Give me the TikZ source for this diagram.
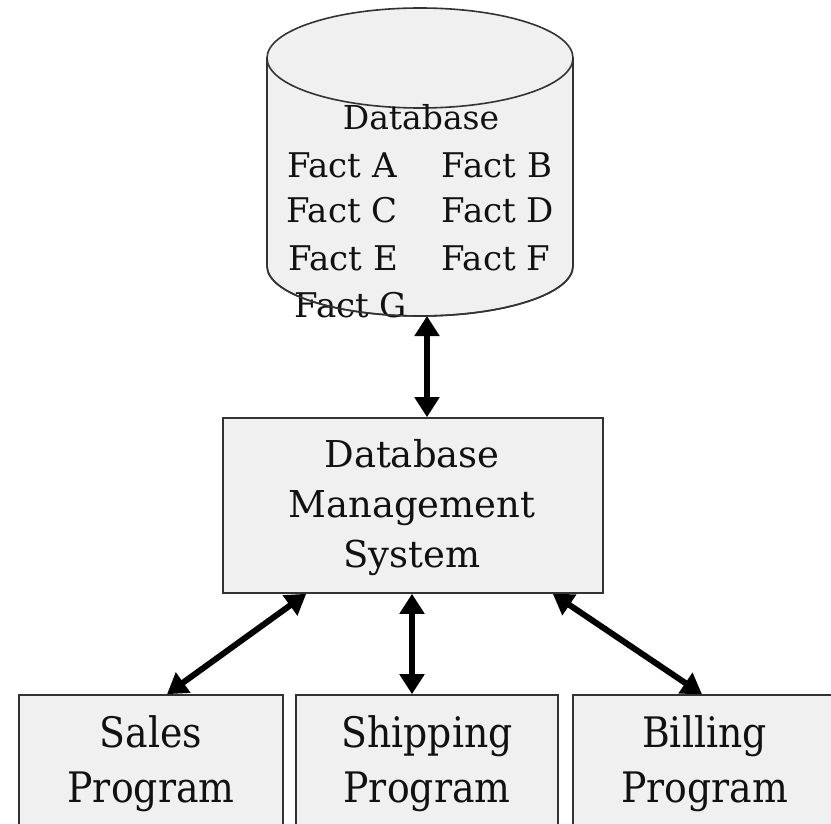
\documentclass[tikz,border=0pt]{standalone}
\usepackage{fontspec}
\setmainfont{DejaVu Serif}
\usetikzlibrary{arrows.meta}
\definecolor{boxfill}{HTML}{F0F0F0}
\definecolor{boxline}{HTML}{333333}
\definecolor{txt}{HTML}{111111}
\begin{document}
\begin{tikzpicture}[x=1pt,y=-1pt,
  box/.style={draw=boxline, line width=1.6pt, fill=boxfill, inner sep=0pt},
  cyl/.style={draw=boxline, line width=1.6pt, fill=boxfill},
  facttxt/.style={anchor=base, inner sep=0pt, text=txt, font=\fontsize{34}{40}\selectfont},
  dbtxt/.style={anchor=base, inner sep=0pt, text=txt, font=\fontsize{33}{40}\selectfont},
  midtxt/.style={anchor=base, inner sep=0pt, text=txt, font=\fontsize{37}{50}\selectfont},
  lowtxt/.style={anchor=base, inner sep=0pt, text=txt, font=\fontsize{42}{55}\selectfont},
  dbl/.style={line width=6pt, black, {Triangle[length=20pt,width=24pt]}-{Triangle[length=20pt,width=24pt]}}
]
\useasboundingbox (0,0) rectangle (831,824);
\clip (0,0) rectangle (831,824);
\fill[white] (0,0) rectangle (831,824);

% cylinder
\path[cyl] (267,58) -- (267,266) arc[start angle=180, end angle=360, x radius=153pt, y radius=50pt] -- (573,58) -- cycle;
\draw[cyl] (420,58) ellipse [x radius=153pt, y radius=50pt];
\coordinate (dbbot) at (427,316);

\node[dbtxt] (dbname) at (421,130) {Database};
\node[facttxt] (fa) at (342,178) {Fact A};
\node[facttxt] (fb) at (497,178) {Fact B};
\node[facttxt] (fc) at (342,223) {Fact C};
\node[facttxt] (fd) at (498,223) {Fact D};
\node[facttxt] (fe) at (343,270) {Fact E};
\node[facttxt] (ff) at (496,270) {Fact F};
\node[facttxt] (fg) at (351,317) {Fact G};
\draw[boxline, line width=1.6pt] (267,266) arc[start angle=180, end angle=360, x radius=153pt, y radius=50pt];

% DBMS
\node[box, minimum width=380pt, minimum height=175pt] (dbms) at (413,505.5) {};
\node[midtxt] (dbmst) at (412,467) {\begin{tabular}[t]{@{}c@{}}Database\\Management\\System\end{tabular}};

% programs
\node[box, minimum width=264pt, minimum height=204pt] (sales) at (151,797) {};
\node[box, minimum width=262pt, minimum height=204pt] (ship) at (427,797) {};
\node[box, minimum width=263pt, minimum height=204pt] (bill) at (704.5,797) {};
\node[lowtxt] (salest) at (151,747) {\scalebox{0.9}[1]{\begin{tabular}[t]{@{}c@{}}Sales\\Program\end{tabular}}};
\node[lowtxt] (shipt) at (427,747) {\scalebox{0.9}[1]{\begin{tabular}[t]{@{}c@{}}Shipping\\Program\end{tabular}}};
\node[lowtxt] (billt) at (704.5,747) {\scalebox{0.9}[1]{\begin{tabular}[t]{@{}c@{}}Billing\\Program\end{tabular}}};

% connectors
\draw[dbl] (dbbot) -- (dbbot |- dbms.north);
\draw[dbl] ([xshift=84pt]dbms.south west) -- ([xshift=16pt]sales.north);
\draw[dbl] ([xshift=-1pt]dbms.south) -- ([xshift=-15pt]ship.north);
\draw[dbl] ([xshift=-51pt]dbms.south east) -- ([xshift=-2.5pt]bill.north);
\end{tikzpicture}
\end{document}
